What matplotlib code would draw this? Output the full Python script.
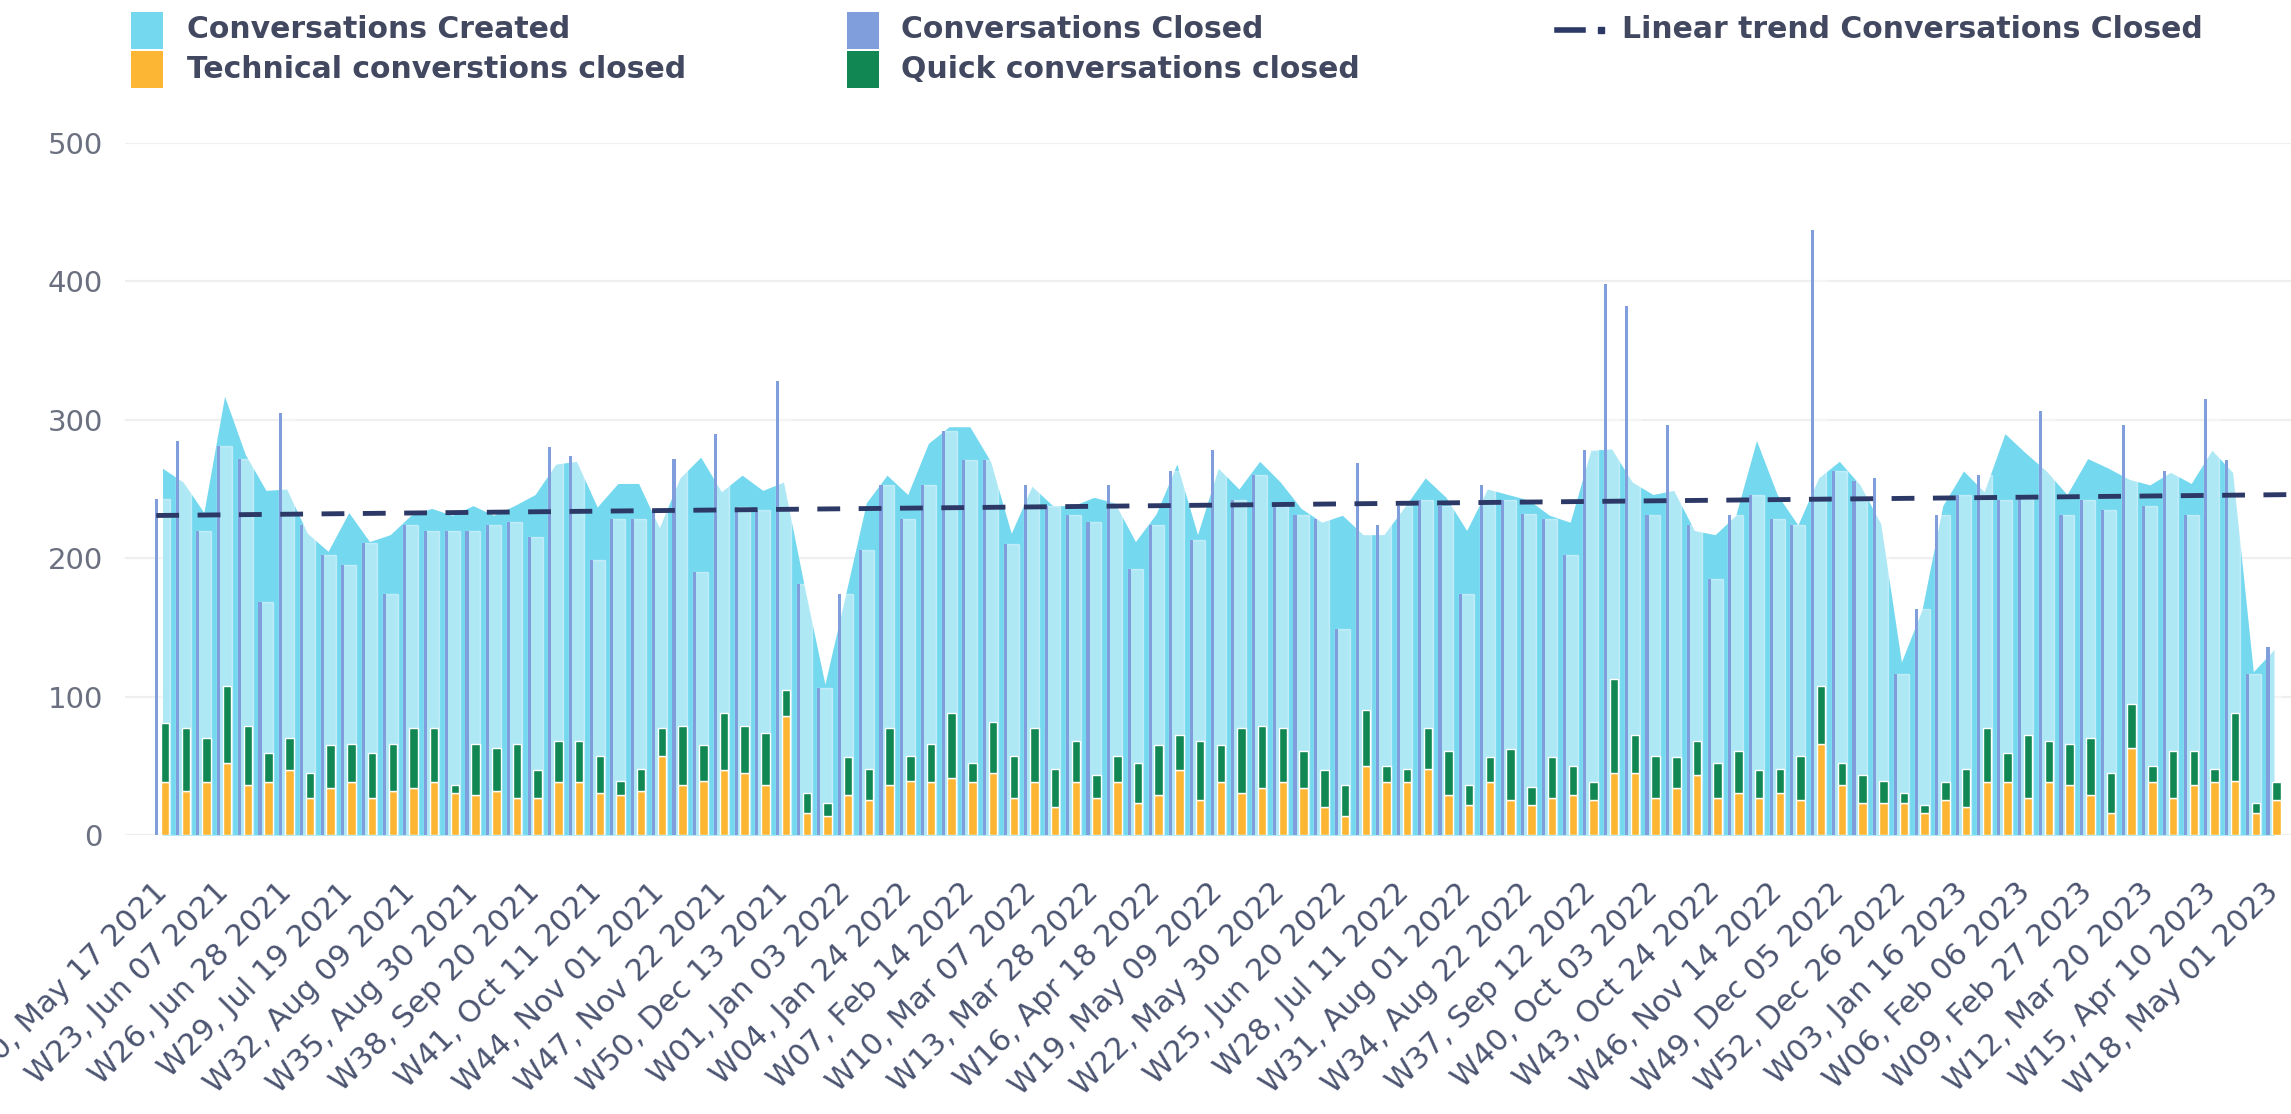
import numpy as np
import matplotlib
matplotlib.use('Agg')
import matplotlib.pyplot as plt
from matplotlib.patches import Rectangle
from matplotlib.lines import Line2D

# weekly values, W20 2021 .. W18 2023
created = [265, 255, 233, 317, 275, 249, 250, 218, 205, 233,
           212, 217, 231, 236, 231, 238, 231, 238, 246, 268,
           270, 237, 254, 254, 222, 258, 273, 248, 260, 249,
           255, 180, 109, 174, 240, 260, 246, 283, 295, 295,
           270, 218, 252, 238, 238, 244, 240, 212, 232, 268,
           217, 265, 250, 270, 255, 236, 226, 231, 217, 217,
           237, 258, 244, 220, 250, 246, 242, 231, 226, 278,
           279, 255, 246, 249, 220, 217, 231, 285, 246, 224,
           258, 270, 253, 225, 125, 163, 238, 263, 248, 290,
           276, 263, 246, 272, 265, 257, 253, 262, 254, 278,
           262, 118, 134]

closed = [243, 285, 220, 281, 272, 168, 305, 224, 202, 195,
          211, 174, 224, 220, 220, 220, 224, 226, 215, 280,
          274, 199, 228, 228, 235, 272, 190, 290, 237, 235,
          328, 181, 106, 174, 206, 253, 228, 253, 292, 271,
          271, 210, 253, 238, 231, 226, 253, 192, 224, 263,
          213, 278, 242, 260, 238, 231, 228, 149, 269, 224,
          238, 242, 238, 174, 253, 242, 232, 228, 202, 278,
          398, 382, 231, 296, 224, 185, 231, 246, 228, 224,
          437, 263, 256, 258, 116, 163, 231, 246, 260, 242,
          246, 306, 231, 242, 235, 296, 238, 263, 231, 315,
          271, 116, 136]

technical = [38, 32, 38, 52, 36, 38, 47, 27, 34, 38,
             27, 32, 34, 38, 30, 29, 32, 27, 27, 38,
             38, 30, 29, 32, 57, 36, 39, 47, 45, 36,
             86, 16, 14, 29, 25, 36, 39, 38, 41, 38,
             45, 27, 38, 20, 38, 27, 38, 23, 29, 47,
             25, 38, 30, 34, 38, 34, 20, 14, 50, 38,
             38, 48, 29, 22, 38, 25, 22, 27, 29, 25,
             45, 45, 27, 34, 43, 27, 30, 27, 30, 25,
             66, 36, 23, 23, 23, 16, 25, 20, 38, 38,
             27, 38, 36, 29, 16, 63, 38, 27, 36, 38,
             39, 16, 25]

quick = [43, 45, 32, 56, 43, 21, 23, 18, 31, 28,
         32, 34, 43, 39, 6, 37, 31, 39, 20, 30,
         30, 27, 10, 16, 20, 43, 26, 41, 34, 38,
         19, 14, 9, 27, 23, 41, 18, 28, 47, 14,
         37, 30, 39, 28, 30, 16, 19, 29, 36, 25,
         43, 27, 47, 45, 39, 27, 27, 22, 40, 12,
         10, 29, 32, 14, 18, 37, 13, 29, 21, 13,
         68, 27, 30, 22, 25, 25, 31, 20, 18, 32,
         42, 16, 20, 16, 7, 6, 13, 28, 39, 21,
         45, 30, 30, 41, 29, 32, 12, 34, 25, 10,
         49, 7, 13]

tick_labels = ["W20, May 17 2021", "W23, Jun 07 2021", "W26, Jun 28 2021", "W29, Jul 19 2021",
               "W32, Aug 09 2021", "W35, Aug 30 2021", "W38, Sep 20 2021", "W41, Oct 11 2021",
               "W44, Nov 01 2021", "W47, Nov 22 2021", "W50, Dec 13 2021", "W01, Jan 03 2022",
               "W04, Jan 24 2022", "W07, Feb 14 2022", "W10, Mar 07 2022", "W13, Mar 28 2022",
               "W16, Apr 18 2022", "W19, May 09 2022", "W22, May 30 2022", "W25, Jun 20 2022",
               "W28, Jul 11 2022", "W31, Aug 01 2022", "W34, Aug 22 2022", "W37, Sep 12 2022",
               "W40, Oct 03 2022", "W43, Oct 24 2022", "W46, Nov 14 2022", "W49, Dec 05 2022",
               "W52, Dec 26 2022", "W03, Jan 16 2023", "W06, Feb 06 2023", "W09, Feb 27 2023",
               "W12, Mar 20 2023", "W15, Apr 10 2023", "W18, May 01 2023"]

c_created = '#74d8ef'
c_closed = '#7f9edb'
c_tech = '#fdb633'
c_quick = '#118753'
c_trend = '#2c3966'
c_text = '#424860'

W, H = 2291, 1114
fig = plt.figure(figsize=(W / 100, H / 100), dpi=100)
ax = fig.add_axes([125 / W, 1 - 835 / H, 1 - 125 / W, (835 - 143) / H])

x = np.arange(len(created))

ax.fill_between(x, created, color=c_created, lw=0, zorder=1)

# closed: light body + solid stripe
ax.bar(x, closed, width=0.72, color='white', alpha=0.42, edgecolor='white', linewidth=1, zorder=2)
ax.bar(x - 0.29, closed, width=0.15, color=c_closed, edgecolor='none', zorder=3)

ax.bar(x + 0.125, technical, width=0.41, color=c_tech, edgecolor='white', linewidth=1, zorder=4)
ax.bar(x + 0.125, quick, bottom=technical, width=0.41, color=c_quick, edgecolor='white', linewidth=1, zorder=4)

coef = np.polyfit(x, closed, 1)
xt = np.array([-0.3, len(x) - 0.2])
ax.plot(xt, np.polyval(coef, xt), color=c_trend, lw=3.5, ls=(0, (4.7, 3.8)), zorder=5)

ax.set_xlim(-1.81, len(x) - 0.18)
ax.set_ylim(0, 500)
ax.set_yticks([0, 100, 200, 300, 400, 500])
ax.yaxis.grid(True, color='#efefef', lw=1.6)
ax.set_axisbelow(True)
for s in ax.spines.values():
    s.set_visible(False)
ax.tick_params(axis='y', length=0, labelsize=21, labelcolor='#6b7080', pad=16)
ax.set_xticks(np.arange(0, len(x), 3))
ax.set_xticklabels(tick_labels, rotation=45, ha='right', va='center', rotation_mode='anchor',
                   fontsize=22, color='#4b5470')
ax.tick_params(axis='x', length=0, pad=38)

# legend drawn by hand in pixel coords
def fx(px):
    return px / W

def fy(py):
    return 1 - py / H

sq = [(131, 12, c_created), (131, 51, c_tech), (847, 12, c_closed), (847, 51, c_quick)]
for px, py, col in sq:
    fig.patches.append(Rectangle((fx(px), fy(py + 37)), 32 / W, 37 / H, transform=fig.transFigure,
                                 color=col, lw=0))
txt = [(187, 30, 'Conversations Created'), (187, 70, 'Technical converstions closed'),
       (901, 30, 'Conversations Closed'), (901, 70, 'Quick conversations closed'),
       (1622, 30, 'Linear trend Conversations Closed')]
for px, py, t in txt:
    fig.text(fx(px), fy(py), t, fontsize=21.5, fontweight='bold', color=c_text, va='center', ha='left')
fig.lines.append(Line2D([fx(1557), fx(1583)], [fy(30), fy(30)], transform=fig.transFigure,
                        color=c_trend, lw=4))
fig.lines.append(Line2D([fx(1601)], [fy(30)], transform=fig.transFigure, marker='s',
                        markersize=4, color=c_trend, lw=0))

fig.savefig('out.png', dpi=100)
